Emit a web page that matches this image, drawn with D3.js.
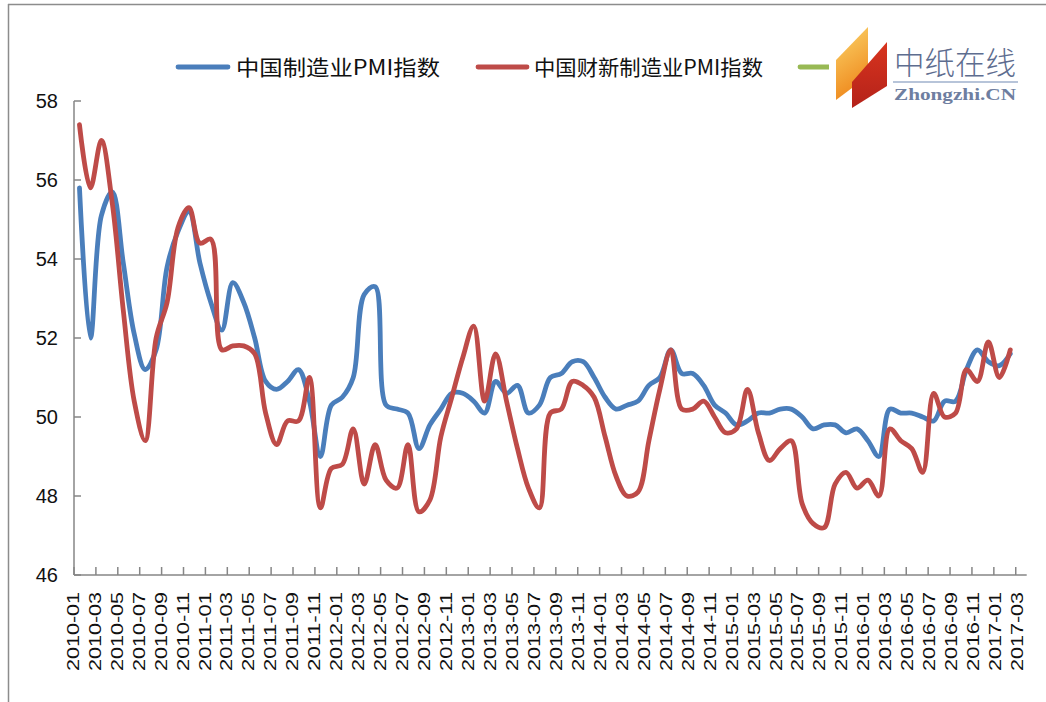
<!DOCTYPE html>
<html>
<head>
<meta charset="utf-8">
<script src="https://cdn.jsdelivr.net/npm/d3@7"></script>
<style>
  html, body { margin: 0; padding: 0; background: #fff; }
  svg { display: block; }
</style>
</head>
<body>
<svg id="chart" width="1046" height="702"></svg>
<script>
// ---------------- DATA ----------------
const months = [
  "2010-01","2010-02","2010-03","2010-04","2010-05","2010-06","2010-07","2010-08","2010-09","2010-10","2010-11","2010-12",
  "2011-01","2011-02","2011-03","2011-04","2011-05","2011-06","2011-07","2011-08","2011-09","2011-10","2011-11","2011-12",
  "2012-01","2012-02","2012-03","2012-04","2012-05","2012-06","2012-07","2012-08","2012-09","2012-10","2012-11","2012-12",
  "2013-01","2013-02","2013-03","2013-04","2013-05","2013-06","2013-07","2013-08","2013-09","2013-10","2013-11","2013-12",
  "2014-01","2014-02","2014-03","2014-04","2014-05","2014-06","2014-07","2014-08","2014-09","2014-10","2014-11","2014-12",
  "2015-01","2015-02","2015-03","2015-04","2015-05","2015-06","2015-07","2015-08","2015-09","2015-10","2015-11","2015-12",
  "2016-01","2016-02","2016-03","2016-04","2016-05","2016-06","2016-07","2016-08","2016-09","2016-10","2016-11","2016-12",
  "2017-01","2017-02","2017-03"
];

// 中国制造业PMI指数
const nbsPMI = [
  55.8, 52.0, 55.1, 55.7, 53.9, 52.1, 51.2, 51.7, 53.8, 54.7, 55.2, 53.9,
  52.9, 52.2, 53.4, 52.9, 52.0, 50.9, 50.7, 50.9, 51.2, 50.4, 49.0, 50.3,
  50.5, 51.0, 53.1, 53.3, 50.3, 50.2, 50.1, 49.2, 49.8, 50.2, 50.6, 50.6,
  50.4, 50.1, 50.9, 50.6, 50.8, 50.1, 50.3, 51.0, 51.1, 51.4, 51.4, 51.0,
  50.5, 50.2, 50.3, 50.4, 50.8, 51.0, 51.7, 51.1, 51.1, 50.8, 50.3, 50.1,
  49.8, 49.9, 50.1, 50.1, 50.2, 50.2, 50.0, 49.7, 49.8, 49.8, 49.6, 49.7,
  49.4, 49.0, 50.2, 50.1, 50.1, 50.0, 49.9, 50.4, 50.4, 51.2, 51.7, 51.4,
  51.3, 51.6, null
];

// 中国财新制造业PMI指数
const caixinPMI = [
  57.4, 55.8, 57.0, 55.4, 52.7, 50.4, 49.4, 52.0, 52.9, 54.8, 55.3, 54.4,
  54.5, 51.7, 51.8, 51.8, 51.6, 50.1, 49.3, 49.9, 49.9, 51.0, 47.7, 48.7,
  48.8, 49.7, 48.3, 49.3, 48.4, 48.2, 49.3, 47.6, 47.9, 49.5, 50.5, 51.5,
  52.3, 50.4, 51.6, 50.4, 49.2, 48.2, 47.7, 50.1, 50.2, 50.9, 50.8, 50.5,
  49.5, 48.5, 48.0, 48.1, 49.4, 50.7, 51.7, 50.2, 50.2, 50.4, 50.0, 49.6,
  49.7, 50.7, 49.6, 48.9, 49.2, 49.4, 47.8, 47.3, 47.2, 48.3, 48.6, 48.2,
  48.4, 48.0, 49.7, 49.4, 49.2, 48.6, 50.6, 50.0, 50.1, 51.2, 50.9, 51.9,
  51.0, 51.7, null
];

const yTicks = [46, 48, 50, 52, 54, 56, 58];
const xTickLabels = months.filter((m, i) => i % 2 === 0);

const seriesNames = ["中国制造业PMI指数", "中国财新制造业PMI指数", ""];
const seriesColors = ["#4A7EBB", "#BE4B48", "#98B954"];

// ---------------- DRAW ----------------
const svg = d3.select("#chart");
const axisColor = "#868686";

// outer frame
svg.append("line").attr("x1", 8).attr("y1", 4.5).attr("x2", 1046).attr("y2", 4.5)
  .attr("stroke", "#8c8c8c").attr("stroke-width", 1.5);
svg.append("line").attr("x1", 8.5).attr("y1", 4).attr("x2", 8.5).attr("y2", 702)
  .attr("stroke", "#8c8c8c").attr("stroke-width", 1.5);

const x = d3.scaleBand().domain(months).range([74, 1026.7]).paddingInner(0).paddingOuter(0);
const cx = m => x(m) + x.bandwidth() / 2;
const y = d3.scaleLinear().domain([46, 58]).range([575, 101]);

// Y axis
const yAxis = svg.append("g").attr("class", "y-axis");
yAxis.append("line").attr("x1", 74).attr("x2", 74).attr("y1", y(58)).attr("y2", y(46))
  .attr("stroke", axisColor).attr("stroke-width", 1.5);
yAxis.selectAll("line.tick").data(yTicks).join("line").attr("class", "tick")
  .attr("x1", 74).attr("x2", 81).attr("y1", d => y(d)).attr("y2", d => y(d))
  .attr("stroke", axisColor).attr("stroke-width", 1.5);
yAxis.selectAll("text").data(yTicks).join("text")
  .attr("x", 58).attr("y", d => y(d)).attr("dy", "0.36em")
  .attr("text-anchor", "end")
  .attr("font-family", "Liberation Sans, Arial, sans-serif")
  .attr("font-size", 20).attr("fill", "#111")
  .text(d => d);

// X axis
const xAxis = svg.append("g").attr("class", "x-axis");
xAxis.append("line").attr("x1", 74).attr("x2", 1026.7).attr("y1", 575).attr("y2", 575)
  .attr("stroke", axisColor).attr("stroke-width", 1.5);
xAxis.selectAll("line.tick").data(xTickLabels).join("line").attr("class", "tick")
  .attr("x1", d => x(d)).attr("x2", d => x(d)).attr("y1", 575).attr("y2", 567)
  .attr("stroke", axisColor).attr("stroke-width", 1.5);
xAxis.selectAll("text").data(xTickLabels).join("text")
  .attr("transform", (d, i) => `translate(${x(d) - 1 + i * 0.06},592) rotate(-90)`)
  .attr("dy", "0.36em")
  .attr("text-anchor", "end")
  .attr("font-family", "Liberation Sans, Arial, sans-serif")
  .attr("font-size", 16).attr("fill", "#111")
  .attr("textLength", 79).attr("lengthAdjust", "spacingAndGlyphs")
  .text(d => d);

// Lines
const line = d3.line()
  .defined(d => d.v != null)
  .x(d => cx(d.m))
  .y(d => y(d.v))
  .curve(d3.curveCatmullRom.alpha(0.5));

[nbsPMI, caixinPMI].forEach((vals, si) => {
  const data = months.map((m, i) => ({ m, v: vals[i] }));
  svg.append("path").datum(data)
    .attr("fill", "none")
    .attr("stroke", seriesColors[si])
    .attr("stroke-width", 4.8)
    .attr("stroke-linejoin", "round")
    .attr("stroke-linecap", "round")
    .attr("d", line);
});

// Legend
const legendY = 67;
const legendItems = [
  { x1: 178, x2: 228, tx: 236, tl: 204 },
  { x1: 478, x2: 527, tx: 534, tl: 229 },
  { x1: 800, x2: 850, tx: null, tl: 0 }
];
legendItems.forEach((it, i) => {
  svg.append("line").attr("x1", it.x1).attr("x2", it.x2).attr("y1", legendY).attr("y2", legendY)
    .attr("stroke", seriesColors[i]).attr("stroke-width", 4.8).attr("stroke-linecap", "round");
  if (it.tx != null) {
    svg.append("text").attr("x", it.tx).attr("y", legendY).attr("dy", "0.36em")
      .attr("font-family", "Noto Sans CJK SC, sans-serif")
      .attr("font-size", 21).attr("fill", "#111")
      .attr("textLength", it.tl).attr("lengthAdjust", "spacingAndGlyphs")
      .text(seriesNames[i]);
  }
});

// Watermark logo (中纸在线 Zhongzhi.CN)
const defs = svg.append("defs");
const gOr = defs.append("linearGradient").attr("id", "gOrange")
  .attr("x1", "0").attr("y1", "0").attr("x2", "0.3").attr("y2", "1");
gOr.append("stop").attr("offset", "0").attr("stop-color", "#fbd56a");
gOr.append("stop").attr("offset", "1").attr("stop-color", "#ef8a1e");
const gRd = defs.append("linearGradient").attr("id", "gRed")
  .attr("x1", "0").attr("y1", "0").attr("x2", "0").attr("y2", "1");
gRd.append("stop").attr("offset", "0").attr("stop-color", "#d8341e");
gRd.append("stop").attr("offset", "1").attr("stop-color", "#b4221a");

const logo = svg.append("g").attr("class", "logo");
logo.append("rect").attr("x", 829).attr("y", 22).attr("width", 193).attr("height", 90).attr("fill", "#fff");
logo.append("path").attr("d", "M836,60 L868,27 L868,76 L836,100 Z").attr("fill", "url(#gOrange)");
logo.append("path").attr("d", "M852,82 L887,42 L887,86 L852,108 Z").attr("fill", "url(#gRed)");
logo.append("text").attr("x", 894).attr("y", 74)
  .attr("font-family", "Noto Sans CJK SC, sans-serif").attr("font-weight", 300)
  .attr("font-size", 31).attr("fill", "#5e6d8f")
  .attr("textLength", 122).attr("lengthAdjust", "spacingAndGlyphs")
  .text("中纸在线");
logo.append("line").attr("x1", 893).attr("x2", 1018).attr("y1", 82).attr("y2", 82)
  .attr("stroke", "#9fb0cc").attr("stroke-width", 1.5);
logo.append("text").attr("x", 894).attr("y", 100)
  .attr("font-family", "Liberation Serif, DejaVu Serif, serif").attr("font-weight", "bold")
  .attr("font-size", 16).attr("fill", "#6e7ea0")
  .attr("textLength", 122).attr("lengthAdjust", "spacingAndGlyphs")
  .text("Zhongzhi.CN");
</script>
</body>
</html>
